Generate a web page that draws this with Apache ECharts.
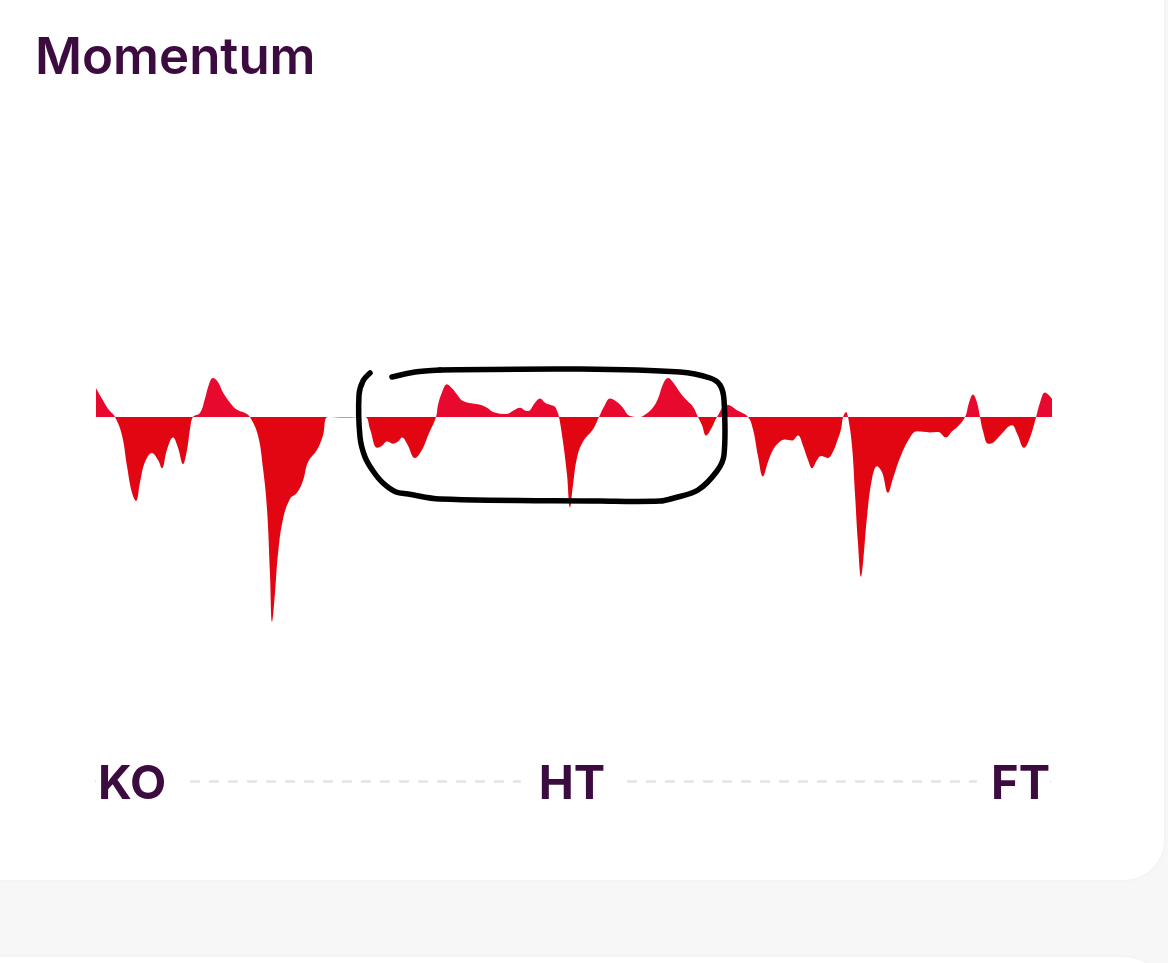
<!DOCTYPE html>
<html>
<head>
<meta charset="utf-8">
<script src="https://cdn.jsdelivr.net/npm/echarts@6/dist/echarts.min.js"></script>
<style>
html,body{margin:0;padding:0;background:#f7f7f7;}
#chart{width:1168px;height:963px;}
</style>
</head>
<body>
<div id="chart"></div>
<script>
// Match minute (0 = KO, 45 = HT, 90 = FT)
const minutes = [
  0,0.56,1.13,1.79,2.45,2.92,3.39,3.77,4.14,4.61,5.27,5.84,6.21,6.68,7.25,7.72,8.19,8.57,8.85,9.13,
  9.79,10.26,10.64,11.01,11.49,11.96,12.62,13.27,14.03,14.50,
  15.25,15.72,16.10,16.38,16.57,16.85,17.13,17.60,18.26,18.92,19.49,19.96,20.81,21.37,21.84,23.44,25.32,
  25.80,26.45,26.93,27.40,27.96,28.43,28.81,29.28,30.03,30.69,31.26,32.01,
  32.20,32.57,33.04,33.51,33.99,34.46,35.02,36.15,36.81,37.38,38.69,39.26,39.92,40.39,40.67,41.33,41.80,42.27,42.74,43.21,43.40,43.59,
  43.96,44.34,44.62,44.91,45.28,45.85,46.79,47.35,
  47.92,48.39,48.86,49.52,50.27,51.21,51.50,52.34,52.91,53.38,53.85,54.32,54.98,55.64,56.20,56.67,
  57.05,57.43,57.99,58.46,59.40,60.44,61.38,
  61.85,62.32,62.79,63.26,63.74,64.39,64.86,65.52,66.09,66.56,67.03,67.41,67.88,68.25,68.63,68.91,69.38,69.76,70.14,70.33,70.61,70.80,
  71.17,71.46,71.74,72.02,72.21,72.58,73.06,73.53,74.00,74.56,75.03,75.69,76.63,77.29,
  78.52,79.27,80.02,80.59,81.06,81.81,82.19,82.56,82.94,83.22,
  83.51,83.98,84.45,85.11,86.24,86.71,87.37,87.93,88.50,88.87,89.34,90
];
// Momentum value (positive = home pressure, negative = away pressure)
const momentum = [
  14,9,4,0,-9,-24,-37,-41,-32,-22,-17.5,-21,-25,-16,-10,-15,-23,-16,-6,0,
  2,9,16,19,17,12,7,3.5,2,0,
  -9,-25,-45,-77,-100,-86,-67,-50,-40,-37,-31,-22,-16,-9,0,-0.3,0,
  -6,-15,-14,-12,-13,-12,-10,-13,-20,-16,-9,0,
  6,12,16,14,11,8,7,6,4.5,2.5,1.5,3,4.5,3.2,2.9,7,9,7,6,5,3,0,
  -12,-28,-44,-33,-20,-12,-6,0,
  6,9,8,5,0.5,0,0.5,4,9,16,19,17,12,8,5,0,
  -4,-9,-5,0,6,3,0,
  -6,-19,-29,-22,-16,-12,-11,-11.5,-9,-14,-21,-25,-21,-19,-19.5,-20,-17,-12,-6,0,2.5,0,
  -14,-38,-62,-78,-71,-49,-30,-24,-27,-37,-30,-20,-10,-7,
  -7.5,-7.3,-10,-7,-5,0,7,11,7,0,
  -7,-13,-12.5,-9,-4,-8,-15,-10,0,7,12,9
];
const tickValues = [0, 45, 90];
const tickLabels = ['KO', 'HT', 'FT'];

const seriesData = minutes.map((m, i) => [m, momentum[i]]);
const maxV = Math.max(...momentum), minV = Math.min(...momentum);
const split = maxV / (maxV - minV);
const posColor = '#e8092e', negColor = '#e20613';
const labelFont = { fontFamily: 'Inter', fontWeight: 700, fontSize: 47, color: '#3c0b3f', backgroundColor: '#fff' };

const chart = echarts.init(document.getElementById('chart'));
chart.setOption({
  backgroundColor: '#f7f7f7',
  animation: false,
  title: {
    text: 'Momentum',
    left: 35, top: 33, padding: 0,
    textStyle: { fontFamily: 'Inter', fontWeight: 600, fontSize: 51, color: '#3c0b3f' }
  },
  grid: [
    { left: 96, width: 956, top: 212, height: 410 },
    { left: 96, width: 954, top: 780, height: 1 }
  ],
  xAxis: [
    { type: 'value', gridIndex: 0, min: 0, max: 90, show: false },
    {
      type: 'value', gridIndex: 1, min: 0, max: 90, interval: 45,
      axisLine: { show: true, lineStyle: { color: '#e3e3e8', width: 2.5, type: [8, 11] } },
      axisTick: { show: false },
      splitLine: { show: false },
      axisLabel: {
        margin: 0, verticalAlign: 'middle',
        alignMinLabel: 'left', alignMaxLabel: 'right',
        formatter: v => {
          const i = tickValues.indexOf(v);
          return '{' + ['ko','ht','ft'][i] + '|' + tickLabels[i] + '}';
        },
        rich: {
          ko: Object.assign({ padding: [10, 24, 2, 2] }, labelFont),
          ht: Object.assign({ padding: [10, 20, 2, 18] }, labelFont),
          ft: Object.assign({ padding: [10, 0, 2, 14] }, labelFont)
        }
      }
    }
  ],
  yAxis: [
    { type: 'value', gridIndex: 0, min: -100, max: 100, show: false },
    { type: 'value', gridIndex: 1, min: 0, max: 1, show: false }
  ],
  graphic: [
    { type: 'rect', z: -10, shape: { x: -40, y: -60, width: 1204, height: 940, r: 40 },
      style: { fill: '#ffffff', shadowBlur: 4, shadowColor: 'rgba(0,0,0,0.04)' } },
    { type: 'rect', z: -10, shape: { x: -40, y: 957, width: 1204, height: 120, r: 40 },
      style: { fill: '#ffffff', shadowBlur: 4, shadowColor: 'rgba(0,0,0,0.04)' } },
    { type: 'polyline', z: 100,
      shape: { smooth: 0.35, points: [[370,373],[363,381],[359,395],[360,437],[365,457],[373,471],[383,483],[396,492],[408,494],[440,499],[600,501],[660,501],[674,498],[698,490],[717,471],[724,455],[724,400],[720,385],[710,378],[680,372],[580,369],[440,370]] },
      style: { stroke: '#000', lineWidth: 5.5, fill: null, lineCap: 'round', lineJoin: 'round' } },
    { type: 'polyline', z: 100,
      shape: { smooth: 0.3, points: [[392,377],[415,372],[440,370]] },
      style: { stroke: '#000', lineWidth: 5.5, fill: null, lineCap: 'round', lineJoin: 'round' } }
  ],
  series: [{
    type: 'line',
    xAxisIndex: 0, yAxisIndex: 0,
    data: seriesData,
    smooth: 0.4,
    showSymbol: false,
    lineStyle: { width: 0, opacity: 0 },
    areaStyle: {
      opacity: 1,
      color: new echarts.graphic.LinearGradient(0, 0, 0, 1, [
        { offset: 0, color: posColor }, { offset: split, color: posColor },
        { offset: split, color: negColor }, { offset: 1, color: negColor }
      ])
    }
  }]
});
</script>
</body>
</html>
